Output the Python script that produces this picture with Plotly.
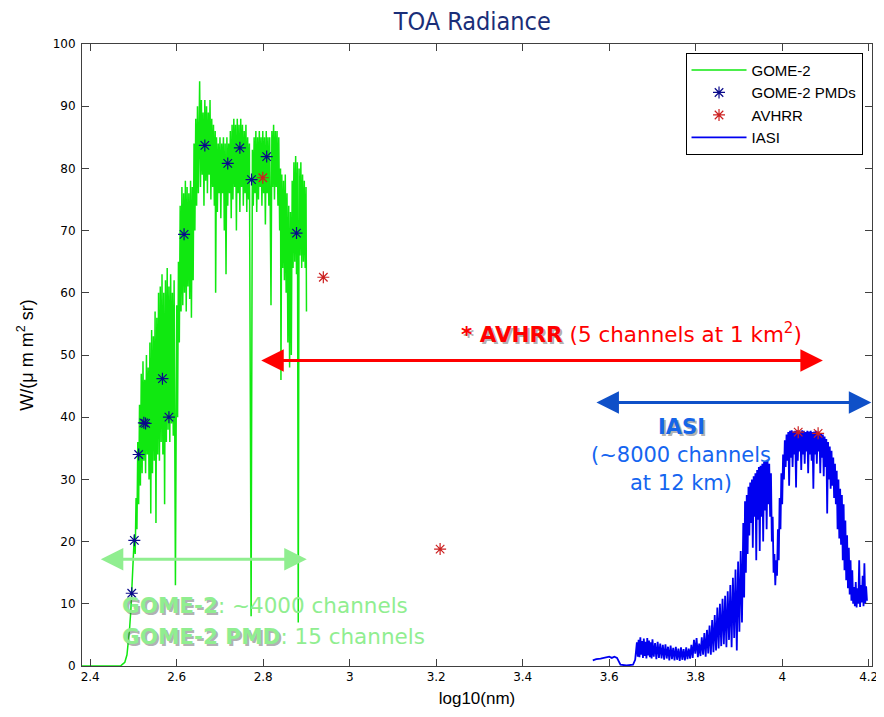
import plotly.graph_objects as go

# ---------------- data ----------------
gome_x = [2.380, 2.470, 2.475, 2.480, 2.485, 2.488, 2.491, 2.494, 2.497, 2.500,
          2.502, 2.504, 2.506, 2.508, 2.510, 2.512, 2.514, 2.516, 2.518, 2.520,
          2.522, 2.524, 2.526, 2.528, 2.530, 2.532, 2.534, 2.536, 2.538, 2.540,
          2.542, 2.544, 2.546, 2.548, 2.550, 2.552, 2.554, 2.556, 2.558, 2.560,
          2.562, 2.564, 2.566, 2.568, 2.570, 2.572, 2.574, 2.576, 2.578, 2.580,
          2.582, 2.584, 2.586, 2.588, 2.590, 2.592, 2.594, 2.597, 2.600, 2.602,
          2.604, 2.606, 2.608, 2.610, 2.612, 2.614, 2.616, 2.618, 2.620, 2.622,
          2.624, 2.626, 2.628, 2.630, 2.632, 2.634, 2.636, 2.638, 2.640, 2.642,
          2.644, 2.646, 2.648, 2.650, 2.653, 2.655, 2.657, 2.659, 2.661, 2.663,
          2.665, 2.667, 2.669, 2.671, 2.673, 2.675, 2.677, 2.679, 2.681, 2.683,
          2.685, 2.687, 2.689, 2.690, 2.692, 2.694, 2.696, 2.698, 2.700, 2.702,
          2.704, 2.706, 2.708, 2.710, 2.712, 2.714, 2.716, 2.718, 2.720, 2.722,
          2.724, 2.726, 2.728, 2.730, 2.732, 2.734, 2.736, 2.738, 2.740, 2.742,
          2.744, 2.746, 2.748, 2.750, 2.752, 2.754, 2.756, 2.758, 2.760, 2.762,
          2.764, 2.766, 2.768, 2.772, 2.775, 2.777, 2.779, 2.781, 2.783, 2.785,
          2.787, 2.789, 2.791, 2.793, 2.795, 2.797, 2.799, 2.801, 2.803, 2.805,
          2.807, 2.809, 2.811, 2.813, 2.815, 2.818, 2.820, 2.822, 2.824, 2.826,
          2.828, 2.830, 2.832, 2.834, 2.836, 2.838, 2.840, 2.841, 2.843, 2.845,
          2.847, 2.849, 2.851, 2.853, 2.855, 2.857, 2.859, 2.861, 2.863, 2.865,
          2.867, 2.869, 2.871, 2.873, 2.875, 2.877, 2.879, 2.881, 2.883, 2.885,
          2.887, 2.889, 2.891, 2.893, 2.895, 2.897, 2.899, 2.900]
gome_y = [0, 0, 0.3, 0.6, 1.8, 3.5, 6, 9, 13, 17,
          21, 18, 27, 22, 36, 26, 42, 29, 47, 31,
          49, 33, 46, 31, 50, 34, 48, 30, 52, 24.5,
          54, 31, 53, 33, 57, 23, 56, 34, 60, 33,
          61, 36, 63, 34, 60, 26, 62, 36, 64, 38,
          61, 36, 63, 39, 60, 37, 62, 13, 58, 40,
          65, 52, 74, 57, 77, 58, 76, 60, 78, 57,
          77, 61, 76, 59, 78, 56, 77, 62, 84, 70,
          88, 74, 90, 76, 94, 77, 91, 79, 89, 74,
          91, 78, 90, 76, 89, 79, 91, 75, 88, 77,
          87, 74, 86, 60, 85, 73, 84, 76, 85, 72,
          84, 76, 85, 70, 84, 63, 85, 74, 84, 76,
          86, 72, 87, 75, 88, 77, 87, 70, 88, 76,
          87, 73, 88, 77, 87, 74, 86, 76, 87, 73,
          85, 75, 84, 8, 83, 74, 85, 76, 86, 73,
          85, 75, 86, 77, 85, 74, 86, 76, 85, 71,
          86, 76, 85, 74, 85, 58, 86, 77, 87, 75,
          86, 77, 86, 74, 85, 70, 80, 46, 79, 64,
          78, 62, 79, 60, 76, 52, 74, 48, 73, 50,
          78, 64, 81, 65, 82, 63, 81, 7, 80, 66,
          81, 64, 79, 65, 78, 64, 77, 57]

iasi_x = [3.562, 3.570, 3.580, 3.590, 3.600, 3.606, 3.612, 3.618, 3.622, 3.626,
          3.640, 3.655, 3.660, 3.664, 3.666, 3.668, 3.670, 3.672, 3.674, 3.676,
          3.678, 3.680, 3.682, 3.684, 3.686, 3.688, 3.690, 3.692, 3.694, 3.696,
          3.698, 3.700, 3.703, 3.706, 3.709, 3.712, 3.715, 3.718, 3.721, 3.724,
          3.727, 3.730, 3.733, 3.736, 3.739, 3.742, 3.745, 3.748, 3.751, 3.754,
          3.757, 3.760, 3.763, 3.766, 3.769, 3.772, 3.775, 3.778, 3.781, 3.784,
          3.787, 3.790, 3.793, 3.796, 3.799, 3.802, 3.805, 3.808, 3.811, 3.814,
          3.817, 3.820, 3.823, 3.826, 3.829, 3.832, 3.835, 3.838, 3.841, 3.844,
          3.847, 3.850, 3.853, 3.856, 3.859, 3.862, 3.865, 3.868, 3.871, 3.874,
          3.877, 3.880, 3.883, 3.886, 3.889, 3.892, 3.895, 3.898, 3.901, 3.904,
          3.907, 3.910, 3.912, 3.914, 3.916, 3.918, 3.920, 3.922, 3.924, 3.926,
          3.928, 3.930, 3.932, 3.934, 3.936, 3.938, 3.940, 3.942, 3.944, 3.946,
          3.948, 3.950, 3.952, 3.954, 3.956, 3.958, 3.960, 3.962, 3.964, 3.966,
          3.968, 3.970, 3.972, 3.974, 3.976, 3.978, 3.980, 3.982, 3.984, 3.986,
          3.988, 3.990, 3.992, 3.994, 3.996, 3.998, 4.000, 4.002, 4.004, 4.006,
          4.008, 4.010, 4.012, 4.014, 4.016, 4.018, 4.020, 4.022, 4.024, 4.026,
          4.028, 4.030, 4.032, 4.034, 4.036, 4.038, 4.040, 4.042, 4.044, 4.046,
          4.048, 4.050, 4.052, 4.054, 4.056, 4.058, 4.060, 4.062, 4.064, 4.066,
          4.068, 4.070, 4.072, 4.074, 4.076, 4.078, 4.080, 4.082, 4.084, 4.086,
          4.088, 4.090, 4.092, 4.094, 4.096, 4.098, 4.100, 4.102, 4.104, 4.106,
          4.108, 4.110, 4.112, 4.114, 4.116, 4.118, 4.120, 4.122, 4.124, 4.126,
          4.128, 4.130, 4.132, 4.134, 4.136, 4.138, 4.140, 4.142, 4.144, 4.146,
          4.148, 4.150, 4.152, 4.154, 4.156, 4.158, 4.160, 4.162, 4.164, 4.166,
          4.168, 4.170, 4.172, 4.174, 4.176, 4.178, 4.180, 4.182, 4.184, 4.186,
          4.188, 4.190, 4.192, 4.194, 4.196]
iasi_y = [0.9, 1.1, 1.2, 1.4, 1.5, 1.3, 1.5, 1.3, 0.6, 0.2,
          0.1, 0.2, 1.0, 3.8, 1.5, 4.2, 1.4, 4.6, 1.8, 4.0,
          1.3, 4.4, 1.6, 3.9, 1.2, 4.5, 1.7, 4.1, 1.4, 3.8,
          1.2, 4.3, 1.5, 3.7, 1.1, 3.9, 1.3, 3.6, 1.2, 3.4,
          1.0, 3.5, 1.2, 3.1, 0.9, 3.3, 1.1, 2.9, 0.9, 3.1,
          1.0, 2.8, 0.8, 3.0, 1.0, 2.7, 0.9, 3.0, 1.1, 2.8,
          1.2, 3.4, 1.3, 4.2, 2.0, 4.5, 1.4, 3.6, 1.6, 4.6,
          1.8, 5.3, 1.5, 5.8, 2.0, 6.5, 1.8, 7.4, 2.2, 8.2,
          2.5, 9.4, 2.8, 10.0, 3.2, 10.8, 3.5, 11.3, 3.0, 12.0,
          4.2, 13.0, 3.0, 14.2, 4.5, 15.5, 2.5, 16.8, 5.5, 18.5,
          7.0, 23.0, 11.0, 26.5, 15.0, 27.5, 18.0, 28.8, 21.0, 29.5,
          23.0, 30.0, 19.0, 30.5, 24.0, 31.0, 17.0, 31.5, 23.5, 32.0,
          18.5, 32.2, 24.0, 32.5, 20.0, 32.8, 25.0, 33.0, 22.0, 33.2,
          26.0, 32.5, 24.0, 31.0, 20.0, 24.0, 15.0, 18.0, 13.0, 17.0,
          14.5, 22.0, 17.0, 27.0, 22.0, 31.0, 26.0, 34.0, 30.0, 36.3,
          32.0, 37.2, 33.0, 37.6, 29.0, 37.8, 33.5, 37.9, 32.0, 37.7,
          34.0, 37.8, 28.7, 37.9, 33.0, 37.8, 34.5, 37.7, 31.5, 37.9,
          34.0, 37.8, 32.5, 37.6, 34.5, 37.8, 31.0, 37.7, 34.0, 37.8,
          33.0, 37.6, 28.5, 37.7, 34.0, 37.8, 32.5, 37.7, 34.5, 37.5,
          31.0, 37.4, 33.5, 37.2, 30.5, 36.9, 32.0, 36.5, 24.5, 36.0,
          30.0, 35.3, 28.5, 34.6, 29.0, 33.5, 27.0, 32.5, 26.0, 31.4,
          22.0, 30.0, 20.5, 28.5, 19.5, 27.5, 17.0, 26.0, 15.4, 23.4,
          13.8, 21.0, 12.5, 19.0, 11.5, 17.0, 10.5, 15.4, 10.0, 12.7,
          9.6, 13.5, 9.4, 12.5, 10.0, 17.0, 9.5, 13.0, 10.2, 14.5,
          9.6, 16.5, 10.0, 12.8, 10.5]

pmd_x = [2.496, 2.502, 2.512, 2.524, 2.528, 2.567, 2.582, 2.617, 2.665, 2.718,
         2.746, 2.773, 2.808, 2.877]
pmd_y = [11.7, 20.2, 34.0, 39.1, 39.0, 46.2, 40.0, 69.4, 83.7, 80.8,
         83.3, 78.2, 81.9, 69.6]

avhrr_x = [2.799, 2.939, 3.209, 4.037, 4.083]
avhrr_y = [78.5, 62.5, 18.8, 37.6, 37.4]

x_tick_vals = [2.4, 2.6, 2.8, 3.0, 3.2, 3.4, 3.6, 3.8, 4.0, 4.2]
x_tick_text = ["2.4", "2.6", "2.8", "3", "3.2", "3.4", "3.6", "3.8", "4", "4.2"]
y_tick_vals = [0, 10, 20, 30, 40, 50, 60, 70, 80, 90, 100]

# ---------------- figure ----------------
fig = go.Figure()
fig.add_trace(go.Scatter(x=gome_x, y=gome_y, mode="lines", name="GOME-2",
                         line=dict(color="#10e810", width=1.5), legendrank=1))
fig.add_trace(go.Scatter(x=iasi_x, y=iasi_y, mode="lines", name="IASI",
                         line=dict(color="#0000f0", width=1.8), legendrank=4))
fig.add_trace(go.Scatter(x=pmd_x, y=pmd_y, mode="markers", name="GOME-2 PMDs",
                         marker=dict(symbol="asterisk-open", size=10, color="#0a0a8a",
                                     line=dict(color="#0a0a8a", width=1.2)),
                         legendrank=2))
fig.add_trace(go.Scatter(x=avhrr_x, y=avhrr_y, mode="markers", name="AVHRR",
                         marker=dict(symbol="asterisk-open", size=10, color="#cc2020",
                                     line=dict(color="#cc2020", width=1.2)),
                         legendrank=3))

TXT = "DejaVu Sans, Verdana, sans-serif"
SHADOW = "rgba(80,80,80,0.45)"
CLEAR = "rgba(0,0,0,0)"


def text_with_shadow(x, y, bold, rest, color, size, xanchor="left", bold_color=None):
    bc = bold_color or color
    # shadow (only behind bold part)
    fig.add_annotation(x=x, y=y, xref="x", yref="y", showarrow=False,
                       xanchor=xanchor, yanchor="middle", xshift=2, yshift=-2,
                       text=f"<b>{bold}</b><span style='color:{CLEAR}'>{rest}</span>",
                       font=dict(family=TXT, size=size, color=SHADOW))
    fig.add_annotation(x=x, y=y, xref="x", yref="y", showarrow=False,
                       xanchor=xanchor, yanchor="middle",
                       text=f"<b><span style='color:{bc}'>{bold}</span></b>{rest}",
                       font=dict(family=TXT, size=size, color=color))


def double_arrow(x0, x1, y, color):
    fig.add_annotation(x=x1, y=y, ax=x0, ay=y, xref="x", yref="y", axref="x", ayref="y",
                       text="", showarrow=True, arrowside="end+start",
                       arrowhead=2, startarrowhead=2, arrowsize=1.5, startarrowsize=1.5,
                       arrowwidth=3, arrowcolor=color, standoff=0, startstandoff=0)


# AVHRR
double_arrow(2.792, 4.094, 49.1, "#ff0000")
text_with_shadow(3.253, 53.6, "* AVHRR", " (5 channels at 1 km<sup>2</sup>)", "#ff0000", 21.5)

# IASI
double_arrow(3.567, 4.206, 42.35, "#0f50c8")
text_with_shadow(3.766, 38.4, "IASI", "", "#1565e8", 21, xanchor="center")
fig.add_annotation(x=3.766, y=33.9, xref="x", yref="y", showarrow=False, xanchor="center",
                   yanchor="middle", text="(~8000 channels",
                   font=dict(family=TXT, size=21, color="#1565f0"))
fig.add_annotation(x=3.766, y=29.4, xref="x", yref="y", showarrow=False, xanchor="center",
                   yanchor="middle", text="at 12 km)",
                   font=dict(family=TXT, size=21, color="#1565f0"))

# GOME-2
double_arrow(2.421, 2.9006, 17.15, "#90ee90")
text_with_shadow(2.469, 9.8, "GOME-2", ": ~4000 channels", "#90ee90", 21.5)
text_with_shadow(2.469, 4.7, "GOME-2 PMD", ": 15 channels", "#90ee90", 21.5)

AX = "#404040"
# the page puts the figure 8 px in from the top-left corner
fig.update_layout(
    width=884, height=717,
    margin=dict(l=74, r=20, t=36, b=59),
    paper_bgcolor="white", plot_bgcolor="white",
    title=dict(text="TOA Radiance", x=0.494, xanchor="center", xref="paper",
               y=1 - 13 / 717, yanchor="middle", yref="container",
               font=dict(family="Liberation Sans Narrow, DejaVu Sans Condensed, sans-serif",
                         size=25, color="#1a2e78")),
    showlegend=True,
    legend=dict(x=0.988, y=0.986, xanchor="right", yanchor="top",
                bgcolor="white", bordercolor="black", borderwidth=1,
                font=dict(family="Liberation Sans, Arial, sans-serif", size=15, color="black"),
                tracegroupgap=0, itemwidth=55),
    xaxis=dict(range=[2.381, 4.2076], tickvals=x_tick_vals, ticktext=x_tick_text,
               ticks="inside", ticklen=7, tickcolor=AX, showline=True, linecolor=AX,
               linewidth=1, mirror="ticks", showgrid=False, zeroline=False,
               automargin=False,
               tickfont=dict(family="DejaVu Sans, sans-serif", size=12, color="black"),
               title=dict(text="log10(nm)", standoff=8,
                          font=dict(family="Liberation Sans, Arial, sans-serif", size=17,
                                    color="black"))),
    yaxis=dict(range=[0, 100], tickvals=y_tick_vals,
               ticks="inside", ticklen=7, tickcolor=AX, showline=True, linecolor=AX,
               linewidth=1, mirror="ticks", showgrid=False, zeroline=False,
               ticklabelstandoff=3, automargin=False,
               tickfont=dict(family="DejaVu Sans, sans-serif", size=12, color="black"),
               title=dict(text="W/(\u03bc m m<sup>2</sup> sr)", standoff=14,
                          font=dict(family="Liberation Sans, Arial, sans-serif", size=18,
                                    color="black"))),
)

fig.write_html("out.html")
